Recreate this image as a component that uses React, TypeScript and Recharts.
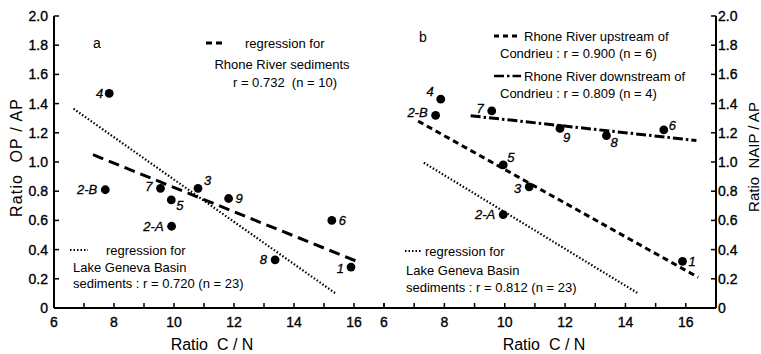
import React from 'react';
import { ScatterChart, Scatter, XAxis, YAxis } from 'recharts';

// ---------- data ----------
const sampleIds = ['1', '2-A', '2-B', '3', '4', '5', '6', '7', '8', '9'];

// panel a : Ratio OP / AP vs Ratio C / N
const cnRatioA = [15.9, 9.92, 7.71, 10.8, 7.84, 9.91, 15.26, 9.55, 13.37, 11.82];
const opApRatioA = [0.28, 0.56, 0.81, 0.82, 1.47, 0.74, 0.6, 0.82, 0.33, 0.75];

// panel b : Ratio NAIP / AP vs Ratio C / N
const cnRatioB = [15.89, 9.95, 7.71, 10.81, 7.88, 9.95, 15.27, 9.57, 13.37, 11.83];
const naipApRatioB = [0.32, 0.64, 1.32, 0.83, 1.43, 0.98, 1.22, 1.35, 1.18, 1.23];

// regression lines (end points)
const rhoneFitACn = [7.3, 16.09];
const rhoneFitAY = [1.05, 0.32];
const genevaFitACn = [6.65, 15.42];
const genevaFitAY = [1.365, 0.095];
const upstreamFitBCn = [7.13, 16.41];
const upstreamFitBY = [1.28, 0.21];
const downstreamFitBCn = [8.87, 16.35];
const downstreamFitBY = [1.317, 1.147];
const genevaFitBCn = [7.32, 14.42];
const genevaFitBY = [0.995, 0.1];

// ticks
const cnTicks = [6, 7, 8, 9, 10, 11, 12, 13, 14, 15, 16, 17];
const ratioTicks = [0, 0.2, 0.4, 0.6, 0.8, 1.0, 1.2, 1.4, 1.6, 1.8, 2.0];

// ---------- helpers ----------
const zipPts = (xs: number[], ys: number[], ids?: string[]) =>
  xs.map((x, i) => ({ x, y: ys[i], id: ids ? ids[i] : '' }));

const pointsA = zipPts(cnRatioA, opApRatioA, sampleIds);
const pointsB = zipPts(cnRatioB, naipApRatioB, sampleIds);

const FONT = '"Liberation Sans", Arial, Helvetica, sans-serif';

// label placement: [anchor, dx, dy]
const placeA: Record<string, [string, number, number]> = {
  '1': ['end', -7, 1],
  '2-A': ['end', -8, 0],
  '2-B': ['end', -8, 0],
  '3': ['start', 6, -8],
  '4': ['end', -6, 0],
  '5': ['start', 5, 5],
  '6': ['start', 7, 0],
  '7': ['end', -8, -2],
  '8': ['end', -8, 0],
  '9': ['start', 7, 0],
};
const placeB: Record<string, [string, number, number]> = {
  '1': ['start', 6, 0],
  '2-A': ['end', -8, 0],
  '2-B': ['end', -8, -3],
  '3': ['end', -8, 2],
  '4': ['end', -7, -8],
  '5': ['start', 4, -7],
  '6': ['start', 5, -4],
  '7': ['end', -8, -2],
  '8': ['start', 4, 7],
  '9': ['start', 3, 9],
};

const makeShape = (place: Record<string, [string, number, number]>) => (props: any) => {
  const { cx, cy, payload } = props;
  const p = place[payload.id] || ['start', 6, 0];
  return (
    <g>
      <circle cx={cx} cy={cy} r={4.4} fill="#000" />
      <text
        x={cx + p[1]}
        y={cy + p[2]}
        dy="0.35em"
        textAnchor={p[0] as any}
        fontStyle="italic"
        fontSize={13}
        fontFamily={FONT}
        fill="#000"
        stroke="#000"
        strokeWidth={0.3}
      >
        {payload.id}
      </text>
    </g>
  );
};

const noShape = () => <g />;

const fmtCn = (v: number) => (v % 2 === 0 && v <= 16 ? String(v) : '');
const fmtRatio = (v: number) => (v === 0 ? '0' : v.toFixed(1));

const axisLine = { stroke: '#000', strokeWidth: 2 };
const tickLine = { stroke: '#000', strokeWidth: 1.5 };

const makeTick = (fmt: (v: number) => string, anchor: string, dy: string) => (props: any) => {
  const { x, y, payload } = props;
  return (
    <text
      x={x}
      y={y}
      dy={dy}
      textAnchor={anchor as any}
      fontSize={14}
      fontFamily={FONT}
      fill="#000"
      stroke="#000"
      strokeWidth={0.35}
    >
      {fmt(payload.value)}
    </text>
  );
};

const xTick = makeTick(fmtCn, 'middle', '0.71em');
const yTickLeft = makeTick(fmtRatio, 'end', '0.35em');
const yTickRight = makeTick(fmtRatio, 'start', '0.35em');

const dotted = { stroke: '#000', strokeWidth: 2.2, strokeDasharray: '1.5 2' };

export default function App() {
  return (
    <div
      style={{
        position: 'absolute',
        left: 0,
        top: 0,
        width: 761,
        height: 354,
        background: '#fff',
        fontFamily: FONT,
        overflow: 'hidden',
      }}
    >
      {/* panel a */}
      <div style={{ position: 'absolute', left: 0, top: 0 }}>
        <ScatterChart width={400} height={354} margin={{ top: 16, right: 16, bottom: 0, left: 0 }}>
          <XAxis
            type="number"
            dataKey="x"
            domain={[6, 17]}
            ticks={cnTicks}
            interval={0}
            height={46}
            tickSize={-5}
            tickMargin={14}
            axisLine={axisLine}
            tickLine={tickLine}
            tick={xTick}
            allowDataOverflow
          />
          <XAxis
            xAxisId="top"
            orientation="top"
            type="number"
            domain={[6, 17]}
            height={0}
            tick={false}
            tickLine={false}
            axisLine={axisLine}
          />
          <YAxis
            type="number"
            dataKey="y"
            domain={[0, 2]}
            ticks={ratioTicks}
            interval={0}
            width={54}
            tickSize={-5}
            tickMargin={11}
            axisLine={axisLine}
            tickLine={tickLine}
            tick={yTickLeft}
            allowDataOverflow
          />
          <Scatter
            data={zipPts(genevaFitACn, genevaFitAY)}
            line={dotted}
            shape={noShape}
            isAnimationActive={false}
          />
          <Scatter
            data={zipPts(rhoneFitACn, rhoneFitAY)}
            line={{ stroke: '#000', strokeWidth: 3, strokeDasharray: '11 6' }}
            shape={noShape}
            isAnimationActive={false}
          />
          <Scatter data={pointsA} shape={makeShape(placeA)} isAnimationActive={false} />
        </ScatterChart>
      </div>

      {/* panel b */}
      <div style={{ position: 'absolute', left: 0, top: 0 }}>
        <ScatterChart width={761} height={354} margin={{ top: 16, right: 0, bottom: 0, left: 384 }}>
          <XAxis
            type="number"
            dataKey="x"
            domain={[6, 17]}
            ticks={cnTicks}
            interval={0}
            height={46}
            tickSize={-5}
            tickMargin={14}
            axisLine={axisLine}
            tickLine={tickLine}
            tick={xTick}
            allowDataOverflow
          />
          <XAxis
            xAxisId="top"
            orientation="top"
            type="number"
            domain={[6, 17]}
            height={0}
            tick={false}
            tickLine={false}
            axisLine={axisLine}
          />
          <YAxis
            yAxisId="l"
            orientation="left"
            type="number"
            dataKey="y"
            domain={[0, 2]}
            ticks={ratioTicks}
            interval={0}
            width={0}
            tickSize={-5}
            tick={false}
            axisLine={axisLine}
            tickLine={tickLine}
            allowDataOverflow
          />
          <YAxis
            yAxisId="r"
            orientation="right"
            type="number"
            domain={[0, 2]}
            ticks={ratioTicks}
            interval={0}
            width={45}
            tickSize={-5}
            tickMargin={7}
            axisLine={axisLine}
            tickLine={tickLine}
            tick={yTickRight}
            allowDataOverflow
          />
          <Scatter
            yAxisId="l"
            data={zipPts(genevaFitBCn, genevaFitBY)}
            line={dotted}
            shape={noShape}
            isAnimationActive={false}
          />
          <Scatter
            yAxisId="l"
            data={zipPts(upstreamFitBCn, upstreamFitBY)}
            line={{ stroke: '#000', strokeWidth: 3, strokeDasharray: '6 4' }}
            shape={noShape}
            isAnimationActive={false}
          />
          <Scatter
            yAxisId="l"
            data={zipPts(downstreamFitBCn, downstreamFitBY)}
            line={{ stroke: '#000', strokeWidth: 3, strokeDasharray: '10 3 2.5 3' }}
            shape={noShape}
            isAnimationActive={false}
          />
          <Scatter yAxisId="l" data={pointsB} shape={makeShape(placeB)} isAnimationActive={false} />
        </ScatterChart>
      </div>

      {/* texts & legends */}
      <svg
        width={761}
        height={354}
        style={{ position: 'absolute', left: 0, top: 0, pointerEvents: 'none' }}
        fontFamily={FONT}
        fill="#000"
      >
        {/* axis titles */}
        <text x={212} y={350} fontSize={16} textAnchor="middle" style={{ whiteSpace: 'pre' }}>
          {'Ratio  C / N'}
        </text>
        <text x={544} y={350} fontSize={16} textAnchor="middle" style={{ whiteSpace: 'pre' }}>
          {'Ratio  C / N'}
        </text>
        <text
          x={22}
          y={158}
          fontSize={16}
          textAnchor="middle"
          textLength={118}
          lengthAdjust="spacing"
          transform="rotate(-90 22 158)"
          style={{ whiteSpace: 'pre' }}
        >
          {'Ratio  OP / AP'}
        </text>
        <text
          x={759}
          y={157}
          fontSize={15}
          textAnchor="middle"
          transform="rotate(-90 759 157)"
          style={{ whiteSpace: 'pre' }}
        >
          {'Ratio  NAIP / AP'}
        </text>

        {/* panel a legends */}
        <text x={97} y={43} dy="0.35em" fontSize={14} textAnchor="middle">a</text>
        <line x1={206} y1={43} x2={222} y2={43} stroke="#000" strokeWidth={3} strokeDasharray="6 4" />
        <text x={245} y={43} dy="0.35em" fontSize={13}>regression for</text>
        <text x={282} y={64} dy="0.35em" fontSize={13} textAnchor="middle">Rhone River sediments</text>
        <text x={285} y={82} dy="0.35em" fontSize={13} textAnchor="middle" style={{ whiteSpace: 'pre' }}>
          {'r = 0.732  (n = 10)'}
        </text>
        <line x1={70} y1={250} x2={88} y2={250} {...dotted} />
        <text x={106} y={250} dy="0.35em" fontSize={13}>regression for</text>
        <text x={73} y={267} dy="0.35em" fontSize={13}>Lake Geneva Basin</text>
        <text x={73} y={283} dy="0.35em" fontSize={13}>sediments : r = 0.720 (n = 23)</text>

        {/* panel b legends */}
        <text x={423} y={37} dy="0.35em" fontSize={14} textAnchor="middle">b</text>
        <line x1={494} y1={36} x2={520} y2={36} stroke="#000" strokeWidth={3} strokeDasharray="5 4" />
        <text x={524} y={36} dy="0.35em" fontSize={13}>Rhone River upstream of</text>
        <text x={500} y={53} dy="0.35em" fontSize={13}>Condrieu : r = 0.900 (n = 6)</text>
        <line x1={494} y1={76} x2={521} y2={76} stroke="#000" strokeWidth={2.5} strokeDasharray="10 3 2.5 3" />
        <text x={524} y={76} dy="0.35em" fontSize={13}>Rhone River downstream of</text>
        <text x={500} y={93} dy="0.35em" fontSize={13}>Condrieu : r = 0.809 (n = 4)</text>
        <line x1={405} y1={251} x2={421} y2={251} {...dotted} />
        <text x={425} y={251} dy="0.35em" fontSize={13}>regression for</text>
        <text x={406} y={270} dy="0.35em" fontSize={13}>Lake Geneva Basin</text>
        <text x={406} y={287} dy="0.35em" fontSize={13}>sediments : r = 0.812 (n = 23)</text>
      </svg>
    </div>
  );
}
